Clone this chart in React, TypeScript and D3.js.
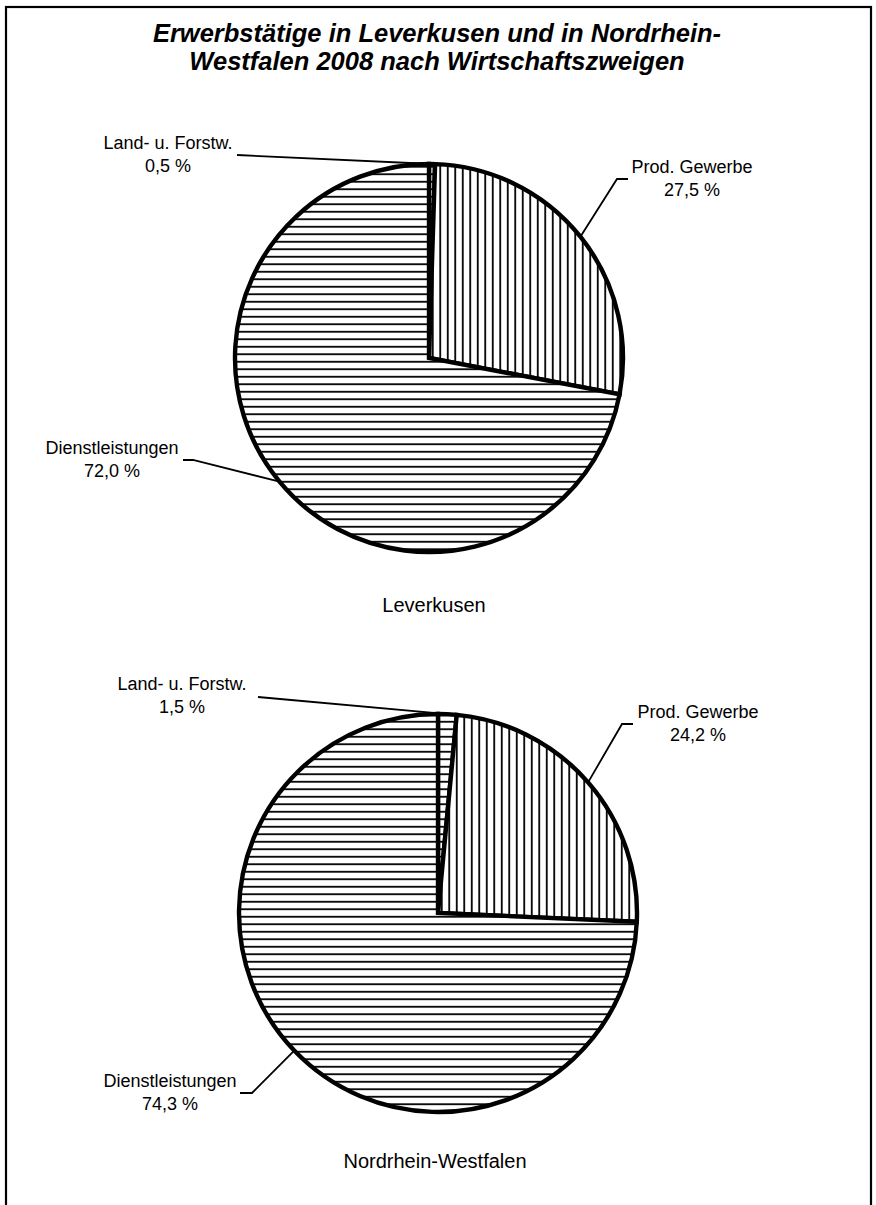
import { useEffect, useRef } from "react";
import * as d3 from "d3";

// Daten
const sectors = ["Land- u. Forstw.", "Prod. Gewerbe", "Dienstleistungen"];
const regions = ["Leverkusen", "Nordrhein-Westfalen"];
const leverkusenShares = [0.5, 27.5, 72.0];
const nrwShares = [1.5, 24.2, 74.3];
const titleLines = [
  "Erwerbstätige in Leverkusen und in Nordrhein-",
  "Westfalen 2008 nach Wirtschaftszweigen",
];

// Layout (Positionen der Kreise und Beschriftungen)
const pieLayouts = [
  {
    cx: 429,
    cy: 358,
    r: 194,
    caption: { x: 434, y: 612 },
    labels: [
      { x: 168, y: 149, ex: 237, ey: 155, lx: 237 },
      { x: 692, y: 173, ex: 617, ey: 179, lx: 628 },
      { x: 112, y: 454, ex: 193, ey: 460, lx: 183 },
    ],
  },
  {
    cx: 438,
    cy: 913,
    r: 199,
    caption: { x: 435, y: 1168 },
    labels: [
      { x: 182, y: 690, ex: 258, ey: 697, lx: 258 },
      { x: 698, y: 718, ex: 622, ey: 724, lx: 633 },
      { x: 170, y: 1087, ex: 252, ey: 1093, lx: 240 },
    ],
  },
];

const patternIds = ["hatch-h", "hatch-v", "hatch-h"];

function fmt(v: number) {
  return v.toFixed(1).replace(".", ",") + " %";
}

export default function App() {
  const ref = useRef<SVGSVGElement>(null);

  useEffect(() => {
    if (!ref.current) return;
    const svg = d3.select(ref.current);
    svg.selectAll("*").remove();

    const font = "'Liberation Sans', Arial, sans-serif";

    // Schraffuren
    const defs = svg.append("defs");
    const ph = defs
      .append("pattern")
      .attr("id", "hatch-h")
      .attr("patternUnits", "userSpaceOnUse")
      .attr("width", 8)
      .attr("height", 7.5);
    ph.append("rect").attr("width", 8).attr("height", 7.5).attr("fill", "white");
    ph.append("line")
      .attr("x1", 0)
      .attr("x2", 8)
      .attr("y1", 3.75)
      .attr("y2", 3.75)
      .attr("stroke", "black")
      .attr("stroke-width", 1.8);

    const pv = defs
      .append("pattern")
      .attr("id", "hatch-v")
      .attr("patternUnits", "userSpaceOnUse")
      .attr("width", 7.5)
      .attr("height", 8);
    pv.append("rect").attr("width", 7.5).attr("height", 8).attr("fill", "white");
    pv.append("line")
      .attr("x1", 3.75)
      .attr("x2", 3.75)
      .attr("y1", 0)
      .attr("y2", 8)
      .attr("stroke", "black")
      .attr("stroke-width", 1.8);

    // Rahmen
    svg
      .append("rect")
      .attr("x", 6)
      .attr("y", 7)
      .attr("width", 865)
      .attr("height", 1250)
      .attr("fill", "white")
      .attr("stroke", "black")
      .attr("stroke-width", 2.2);

    // Titel
    svg
      .append("text")
      .attr("text-anchor", "middle")
      .style("font-family", font)
      .style("font-size", "25.5px")
      .style("font-weight", "bold")
      .style("font-style", "italic")
      .selectAll("tspan")
      .data(titleLines)
      .enter()
      .append("tspan")
      .attr("x", 437)
      .attr("y", (_, i) => 42 + i * 28)
      .text((d) => d);

    const datasets = [leverkusenShares, nrwShares];
    const pie = d3
      .pie<number>()
      .sort(null)
      .value((d) => d);

    datasets.forEach((values, pi) => {
      const L = pieLayouts[pi];
      const arcs = pie(values);
      const arc = d3.arc<d3.PieArcDatum<number>>().innerRadius(0).outerRadius(L.r);
      const g = svg.append("g").attr("transform", `translate(${L.cx},${L.cy})`);

      g.selectAll("path")
        .data(arcs)
        .enter()
        .append("path")
        .attr("d", arc)
        .attr("fill", (_, i) => `url(#${patternIds[i]})`)
        .attr("stroke", "black")
        .attr("stroke-width", 4.4)
        .attr("stroke-linejoin", "miter");

      // Führungslinien und Beschriftungen
      arcs.forEach((a, i) => {
        const lab = L.labels[i];
        const mid = (a.startAngle + a.endAngle) / 2;
        const px = L.cx + L.r * Math.sin(mid);
        const py = L.cy - L.r * Math.cos(mid);
        svg
          .append("polyline")
          .attr("points", `${px},${py} ${lab.ex},${lab.ey} ${lab.lx},${lab.ey}`)
          .attr("fill", "none")
          .attr("stroke", "black")
          .attr("stroke-width", 1.8);

        const t = svg
          .append("text")
          .attr("text-anchor", "middle")
          .style("font-family", font)
          .style("font-size", "18px")
          .attr("fill", "black");
        t.append("tspan").attr("x", lab.x).attr("y", lab.y).text(sectors[i]);
        t.append("tspan")
          .attr("x", lab.x)
          .attr("y", lab.y + 23)
          .text(fmt(values[i]));
      });

      svg
        .append("text")
        .attr("x", L.caption.x)
        .attr("y", L.caption.y)
        .attr("text-anchor", "middle")
        .style("font-family", font)
        .style("font-size", "20px")
        .text(regions[pi]);
    });
  }, []);

  return (
    <div style={{ position: "absolute", left: 0, top: 0 }}>
      <svg ref={ref} width={876} height={1205} style={{ display: "block" }} />
    </div>
  );
}
